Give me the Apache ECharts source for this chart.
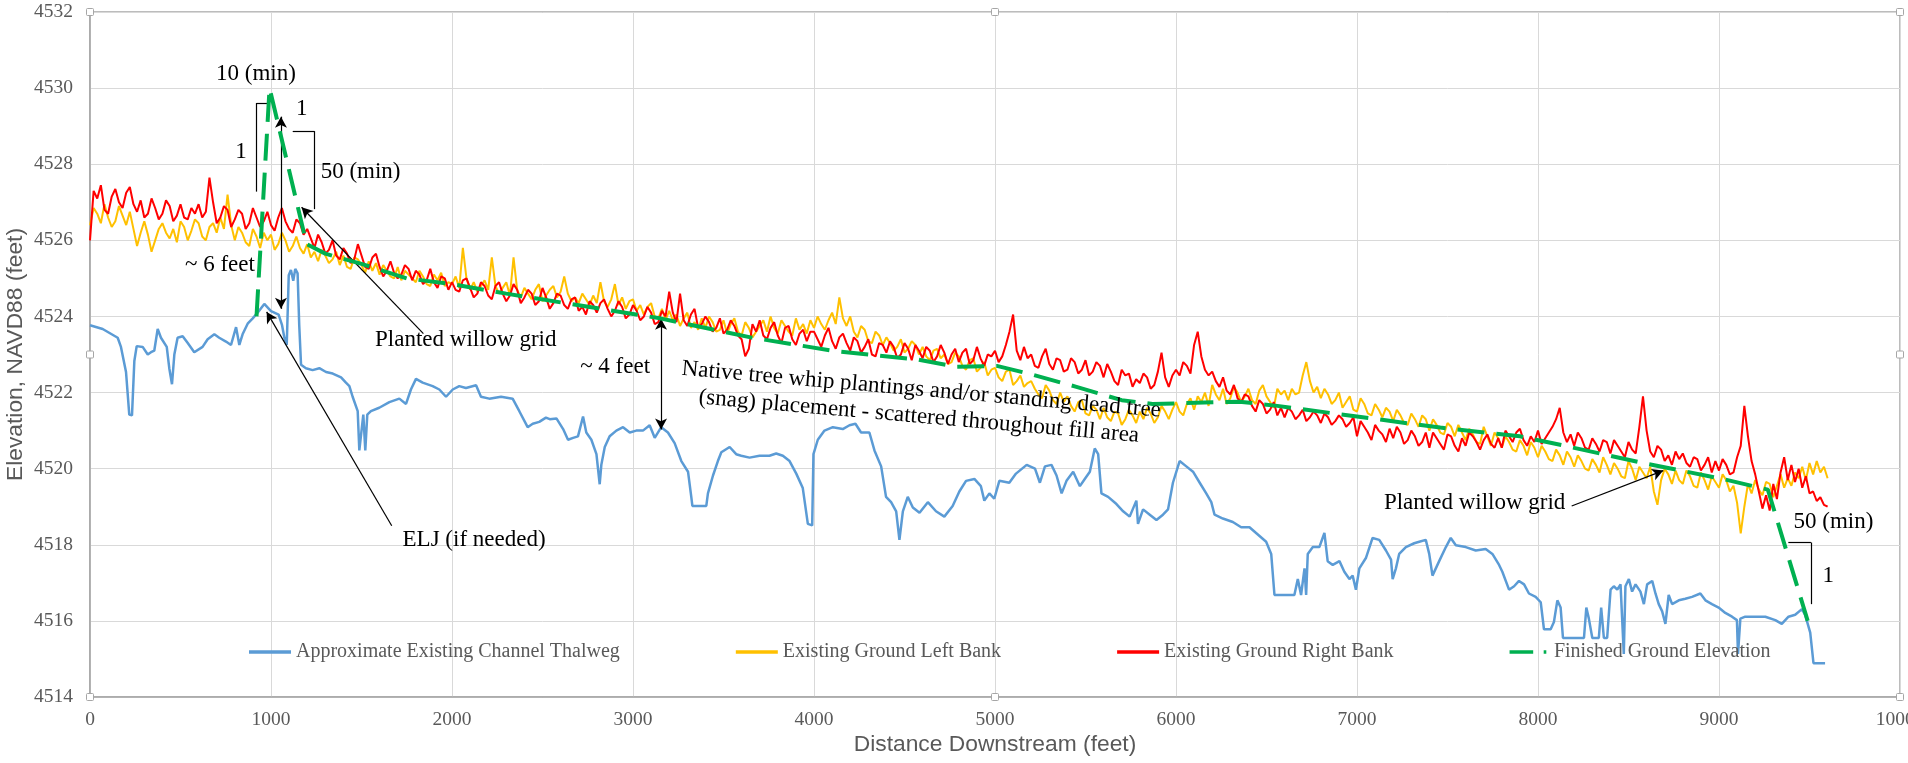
<!DOCTYPE html>
<html><head><meta charset="utf-8">
<script src="https://cdn.jsdelivr.net/npm/echarts@6.0.0/dist/echarts.min.js"></script>
<style>html,body{margin:0;padding:0;background:#fff}#c{width:1908px;height:763px}</style>
</head><body><div id="c"></div>
<script>
// ---------- DATA ----------
const seriesNames = ['Approximate Existing Channel Thalweg','Existing Ground Left Bank','Existing Ground Right Bank','Finished Ground Elevation'];
const xAxisTitle = 'Distance Downstream (feet)';
const yAxisTitle = 'Elevation, NAVD88 (feet)';
const xRange = [0, 10000, 1000];
const yRange = [4514, 4532, 2];

// [distance ft, elevation ft]
const thalweg = [[0,4523.77],[70,4523.67],[153,4523.44],[171,4523.2],[199,4522.54],[217,4521.42],[232,4521.4],[245,4522.83],[258,4523.22],[291,4523.2],[319,4523.0],[337,4523.06],[355,4523.1],[374,4523.67],[392,4523.44],[424,4523.2],[438,4522.64],[453,4522.22],[466,4523.0],[484,4523.44],[512,4523.48],[540,4523.3],[576,4523.06],[622,4523.2],[650,4523.4],[687,4523.53],[714,4523.44],[751,4523.34],[779,4523.25],[807,4523.72],[825,4523.25],[843,4523.53],[871,4523.81],[899,4523.95],[926,4524.1],[963,4524.33],[1000,4524.14],[1042,4524.05],[1061,4523.77],[1074,4523.44],[1087,4523.25],[1098,4525.08],[1110,4525.22],[1123,4524.94],[1134,4525.25],[1147,4525.13],[1156,4523.77],[1166,4522.73],[1193,4522.64],[1230,4522.59],[1267,4522.64],[1304,4522.54],[1341,4522.5],[1387,4522.4],[1414,4522.26],[1433,4522.17],[1451,4521.89],[1479,4521.51],[1488,4520.48],[1499,4520.48],[1510,4521.42],[1521,4520.48],[1532,4521.42],[1552,4521.51],[1598,4521.6],[1654,4521.75],[1709,4521.84],[1746,4521.7],[1773,4522.08],[1801,4522.36],[1838,4522.26],[1893,4522.17],[1930,4522.08],[1967,4521.89],[2004,4522.08],[2040,4522.17],[2077,4522.12],[2133,4522.19],[2160,4521.89],[2206,4521.84],[2271,4521.89],[2335,4521.84],[2372,4521.51],[2418,4521.09],[2446,4521.18],[2482,4521.23],[2519,4521.34],[2540,4521.3],[2577,4521.32],[2614,4521.04],[2641,4520.76],[2669,4520.81],[2696,4520.85],[2724,4521.37],[2742,4520.95],[2770,4520.76],[2798,4520.38],[2816,4519.59],[2825,4520.1],[2844,4520.57],[2871,4520.85],[2908,4521.0],[2945,4521.09],[2982,4520.95],[3018,4521.0],[3055,4521.0],[3092,4521.14],[3120,4520.81],[3156,4521.09],[3193,4520.95],[3230,4520.67],[3267,4520.2],[3304,4519.92],[3322,4519.26],[3328,4519.02],[3405,4519.02],[3414,4519.35],[3442,4519.82],[3469,4520.2],[3488,4520.43],[3534,4520.57],[3570,4520.38],[3598,4520.34],[3644,4520.29],[3699,4520.34],[3754,4520.34],[3791,4520.4],[3828,4520.34],[3865,4520.2],[3902,4519.87],[3938,4519.49],[3966,4518.55],[3990,4518.51],[3997,4520.38],[4021,4520.76],[4058,4521.0],[4104,4521.09],[4159,4521.04],[4196,4521.14],[4229,4521.18],[4260,4520.95],[4306,4520.95],[4334,4520.48],[4371,4520.06],[4398,4519.26],[4426,4519.12],[4454,4518.88],[4472,4518.13],[4491,4518.88],[4518,4519.26],[4546,4518.98],[4583,4518.84],[4629,4519.12],[4674,4518.88],[4720,4518.74],[4766,4519.02],[4803,4519.4],[4840,4519.68],[4886,4519.73],[4922,4519.54],[4941,4519.16],[4969,4519.35],[4996,4519.21],[5024,4519.68],[5079,4519.63],[5116,4519.87],[5175,4520.1],[5221,4520.0],[5248,4519.63],[5276,4520.06],[5312,4520.1],[5340,4519.82],[5368,4519.35],[5395,4519.68],[5432,4519.92],[5469,4519.54],[5496,4519.73],[5524,4519.92],[5551,4520.53],[5570,4520.38],[5588,4519.35],[5625,4519.26],[5671,4519.07],[5708,4518.88],[5744,4518.74],[5781,4519.16],[5790,4518.55],[5818,4518.93],[5855,4518.79],[5892,4518.65],[5928,4518.79],[5956,4518.93],[5983,4519.63],[6020,4520.2],[6057,4520.06],[6094,4519.92],[6131,4519.63],[6167,4519.35],[6195,4519.12],[6213,4518.79],[6259,4518.69],[6314,4518.6],[6360,4518.46],[6406,4518.46],[6452,4518.27],[6498,4518.08],[6526,4517.76],[6544,4516.68],[6654,4516.68],[6673,4517.1],[6691,4516.68],[6710,4517.38],[6719,4516.68],[6728,4517.76],[6756,4517.94],[6792,4517.94],[6820,4518.31],[6838,4517.57],[6866,4517.47],[6903,4517.57],[6930,4517.29],[6958,4517.1],[6976,4517.19],[6994,4516.82],[7013,4517.38],[7050,4517.66],[7086,4518.18],[7123,4518.13],[7160,4517.85],[7188,4517.61],[7197,4517.1],[7215,4517.38],[7233,4517.76],[7270,4517.94],[7316,4518.04],[7344,4518.08],[7380,4518.13],[7399,4517.76],[7417,4517.19],[7454,4517.57],[7491,4517.94],[7518,4518.18],[7546,4517.99],[7601,4517.94],[7656,4517.85],[7711,4517.89],[7748,4517.76],[7785,4517.47],[7803,4517.29],[7840,4516.82],[7868,4516.91],[7895,4517.05],[7923,4516.96],[7950,4516.72],[7987,4516.63],[8015,4516.49],[8033,4515.78],[8070,4515.78],[8088,4515.97],[8107,4516.54],[8125,4516.35],[8138,4515.55],[8254,4515.55],[8267,4516.35],[8281,4516.06],[8300,4515.55],[8336,4515.55],[8349,4516.35],[8364,4515.55],[8382,4515.55],[8401,4516.82],[8419,4516.91],[8438,4516.82],[8456,4516.96],[8474,4515.13],[8483,4516.91],[8502,4517.1],[8520,4516.77],[8539,4516.96],[8566,4516.77],[8585,4516.44],[8603,4516.96],[8631,4517.05],[8649,4516.72],[8667,4516.44],[8686,4516.25],[8704,4515.92],[8722,4516.68],[8741,4516.44],[8778,4516.54],[8814,4516.58],[8851,4516.63],[8897,4516.72],[8925,4516.54],[8961,4516.44],[8998,4516.35],[9035,4516.21],[9072,4516.11],[9099,4516.02],[9105,4515.13],[9118,4516.06],[9145,4516.11],[9200,4516.11],[9256,4516.11],[9311,4516.02],[9347,4515.92],[9384,4516.11],[9421,4516.16],[9458,4516.31],[9476,4516.16],[9504,4515.69],[9522,4514.89],[9586,4514.89]];

// bank surveys, one reading every bankStep feet starting at 0 ft
const bankStep = 20;
const leftBank = [
4526.4,4526.85,4526.7,4526.45,4526.95,4526.6,4526.35,4526.5,4526.9,4526.65,
4526.4,4526.75,4526.3,4525.85,4526.2,4526.5,4526.15,4525.7,4526.0,4526.3,
4526.45,4526.2,4526.05,4526.3,4525.95,4526.5,4526.35,4526.0,4526.25,4526.55,
4526.45,4526.1,4526.0,4526.35,4526.45,4526.2,4526.6,4526.3,4527.2,4526.4,
4526.0,4526.35,4526.2,4525.95,4525.85,4526.3,4526.1,4525.8,4526.2,4526.0,
4526.15,4525.75,4525.9,4526.2,4526.0,4525.7,4525.85,4526.1,4525.8,4525.65,
4525.9,4525.55,4525.7,4525.45,4525.75,4525.6,4525.4,4525.5,4525.7,4525.35,
4525.6,4525.3,4525.25,4525.55,4525.5,4525.35,4525.15,4525.45,4525.2,4525.4,
4525.1,4525.35,4525.2,4525.05,4525.0,4525.3,4524.95,4525.2,4525.1,4525.0,
4524.9,4525.2,4525.05,4524.85,4524.8,4525.1,4524.95,4525.15,4524.8,4524.9,
4524.85,4525.05,4524.75,4525.8,4525.0,4524.7,4524.9,4524.65,4524.8,4524.95,
4524.7,4525.55,4524.8,4524.6,4524.75,4524.9,4524.55,4525.55,4524.7,4524.5,
4524.75,4524.6,4524.45,4524.7,4524.85,4524.4,4524.55,4524.7,4524.8,4524.5,
4524.65,4525.05,4524.6,4524.4,4524.5,4524.35,4524.6,4524.45,4524.3,4524.55,
4524.35,4524.9,4524.4,4524.25,4524.45,4524.85,4524.3,4524.5,4524.2,4524.4,
4524.45,4524.15,4524.3,4524.05,4524.25,4524.35,4524.0,4523.95,4524.2,4523.9,
4524.15,4523.9,4524.05,4523.75,4523.95,4524.1,4523.7,4523.85,4523.65,4523.95,
4523.7,4524.0,4523.85,4523.6,4523.65,4523.9,4523.55,4523.8,4523.95,4523.6,
4523.5,4523.85,4523.7,4523.45,4523.6,4523.75,4523.9,4523.6,4524.0,4523.7,
4523.55,4523.9,4523.75,4523.6,4523.5,4523.95,4523.65,4523.8,4523.55,4523.9,
4523.7,4524.0,4523.8,4523.65,4523.9,4524.1,4523.8,4524.5,4523.95,4523.75,
4524.0,4523.6,4523.45,4523.75,4523.65,4523.35,4523.3,4523.6,4523.5,4523.25,
4523.45,4523.3,4523.1,4523.2,4523.4,4523.05,4523.15,4523.35,4523.25,4523.0,
4523.2,4522.95,4522.85,4523.1,4523.15,4522.9,4523.0,4522.75,4522.8,4523.05,
4522.95,4522.7,4522.6,4522.85,4522.9,4522.55,4522.65,4522.8,4522.45,4522.6,
4522.65,4522.4,4522.3,4522.55,4522.6,4522.2,4522.3,4522.45,4522.15,4522.25,
4522.3,4522.1,4521.95,4521.85,4522.2,4522.05,4521.8,4521.7,4522.0,4521.75,
4521.9,4521.65,4521.5,4521.75,4521.8,4521.45,4521.4,4521.65,4521.55,4521.3,
4521.6,4521.35,4521.25,4521.5,4521.45,4521.15,4521.3,4521.55,4521.4,4521.2,
4521.5,4521.3,4521.6,4521.45,4521.2,4521.35,4521.65,4521.5,4521.3,4521.55,
4521.75,4521.5,4521.4,4521.7,4521.85,4521.55,4521.9,4521.75,4522.0,4521.65,
4522.2,4521.95,4521.8,4522.1,4521.7,4521.85,4522.15,4522.0,4521.75,4521.9,
4522.1,4521.8,4521.7,4522.05,4522.2,4521.9,4521.75,4521.6,4522.1,4521.95,
4522.05,4521.8,4522.1,4521.95,4522.0,4522.45,4522.8,4522.3,4522.0,4522.15,
4521.85,4522.1,4521.95,4521.7,4521.8,4522.0,4521.6,4521.75,4521.9,4521.55,
4521.5,4521.85,4521.7,4521.45,4521.4,4521.7,4521.55,4521.35,4521.6,4521.5,
4521.25,4521.55,4521.4,4521.2,4521.15,4521.45,4521.3,4521.1,4521.4,4521.3,
4521.0,4521.3,4521.15,4520.95,4520.9,4521.2,4521.1,4520.85,4521.15,4520.95,
4520.75,4521.05,4520.9,4520.7,4520.65,4521.1,4520.85,4520.6,4520.95,4520.8,
4520.55,4520.85,4520.7,4520.5,4520.45,4520.75,4520.6,4520.35,4520.7,4520.55,
4520.3,4520.6,4520.45,4520.25,4520.2,4520.5,4520.35,4520.1,4520.45,4520.3,
4520.05,4520.35,4520.2,4520.0,4519.95,4520.25,4520.1,4519.9,4520.3,4520.1,
4519.85,4520.15,4520.0,4519.8,4519.75,4520.2,4520.0,4519.7,4520.05,4519.9,
4519.75,4520.05,4519.4,4519.05,4519.7,4520.0,4519.85,4519.6,4519.95,4519.7,
4519.6,4519.95,4519.8,4519.55,4519.5,4519.9,4519.7,4519.45,4519.8,4519.65,
4519.5,4519.85,4519.7,4519.4,4519.55,4519.1,4518.3,4519.0,4519.6,4519.35,
4519.7,4519.45,4519.3,4519.65,4519.6,4519.25,4519.55,4519.85,4519.5,4519.75,
4519.55,4519.9,4519.75,4520.05,4519.7,4520.15,4519.85,4520.2,4519.9,4520.05,
4519.75];
const rightBank = [
4526.0,4527.3,4527.1,4527.45,4526.8,4526.7,4527.15,4527.35,4527.0,4526.85,
4527.25,4527.4,4526.95,4526.75,4527.05,4526.6,4526.7,4527.1,4526.85,4526.55,
4526.7,4527.05,4526.9,4526.5,4526.65,4526.95,4526.6,4526.55,4526.85,4526.7,
4526.95,4526.6,4526.75,4527.65,4527.0,4526.45,4526.6,4526.9,4526.8,4526.35,
4526.55,4526.8,4526.7,4526.3,4526.45,4526.85,4526.6,4526.35,4526.5,4526.75,
4526.4,4526.25,4526.6,4526.85,4526.5,4526.3,4526.2,4526.55,4526.45,4526.15,
4526.3,4526.05,4525.8,4526.15,4525.95,4525.65,4525.75,4526.0,4525.6,4525.5,
4525.8,4525.65,4525.4,4525.5,4525.9,4525.6,4525.3,4525.25,4525.55,4525.65,
4525.3,4525.05,4525.2,4525.45,4525.15,4525.0,4525.1,4525.35,4525.25,4524.95,
4525.2,4525.1,4524.85,4524.95,4525.25,4524.9,4524.75,4525.05,4525.0,4524.7,
4524.9,4524.7,4524.65,4524.95,4525.0,4524.75,4524.5,4524.6,4524.9,4524.8,
4524.55,4524.45,4524.8,4524.9,4524.6,4524.4,4524.55,4524.85,4524.7,4524.35,
4524.5,4524.7,4524.6,4524.3,4524.4,4524.75,4524.5,4524.2,4524.35,4524.6,
4524.55,4524.3,4524.2,4524.45,4524.5,4524.15,4524.25,4524.05,4524.4,4524.3,
4524.1,4524.35,4524.45,4524.2,4524.0,4524.15,4524.4,4524.25,4523.95,4524.05,
4524.3,4524.15,4523.9,4524.0,4524.25,4524.1,4523.8,4523.85,4524.15,4524.0,
4524.65,4524.1,4523.85,4524.6,4523.9,4523.75,4524.05,4524.2,4523.7,4523.8,
4524.0,4523.85,4523.6,4523.7,4523.95,4523.55,4523.65,4523.9,4523.75,4523.5,
4523.4,4522.95,4523.15,4523.8,4523.6,4523.9,4523.5,4523.4,4523.7,4523.85,
4523.5,4523.3,4523.7,4523.75,4523.4,4523.25,4523.55,4523.65,4523.35,4523.6,
4523.6,4523.4,4523.2,4523.5,4523.7,4523.35,4523.15,4523.45,4523.55,4523.3,
4523.1,4523.45,4523.35,4523.05,4523.2,4523.4,4523.0,4522.95,4523.3,4523.25,
4523.05,4523.35,4523.2,4522.9,4523.0,4523.3,4523.15,4522.85,4523.25,4523.1,
4522.9,4523.2,4523.1,4522.8,4522.95,4523.25,4523.05,4522.75,4523.0,4523.15,
4522.8,4523.05,4523.15,4522.75,4522.85,4523.2,4522.9,4522.7,4523.0,4522.95,
4523.1,4522.8,4522.95,4523.25,4523.6,4524.05,4523.1,4522.85,4523.2,4522.9,
4523.0,4522.7,4522.65,4522.95,4523.15,4522.75,4522.6,4522.9,4522.85,4522.55,
4522.6,4522.9,4522.8,4522.5,4522.6,4522.85,4522.45,4522.55,4522.8,4522.7,
4522.4,4522.75,4522.55,4522.3,4522.2,4522.6,4522.45,4522.5,4522.15,4522.35,
4522.25,4522.5,4522.4,4522.1,4522.2,4522.55,4523.05,4522.4,4522.15,4522.45,
4522.6,4522.45,4522.8,4522.7,4522.5,4523.25,4523.6,4522.95,4522.6,4522.45,
4522.55,4522.3,4522.15,4522.4,4522.05,4521.95,4522.2,4521.85,4521.75,4521.95,
4521.9,4521.65,4521.5,4521.8,4521.7,4521.45,4521.55,4521.75,4521.4,4521.6,
4521.35,4521.6,4521.5,4521.3,4521.4,4521.55,4521.25,4521.35,4521.5,4521.4,
4521.2,4521.45,4521.35,4521.15,4521.25,4521.4,4521.3,4521.1,4521.2,4521.35,
4520.85,4521.25,4521.1,4520.95,4520.75,4521.15,4521.0,4520.9,4520.7,4521.05,
4520.8,4521.1,4520.95,4520.65,4520.75,4521.0,4520.85,4520.6,4520.7,4520.95,
4520.55,4520.95,4520.8,4520.65,4520.5,4520.9,4520.85,4520.6,4520.45,4520.8,
4520.6,4520.95,4520.85,4520.7,4520.5,4520.75,4520.9,4520.65,4520.55,4520.8,
4520.55,4521.0,4520.85,4520.7,4520.95,4521.05,4520.75,4520.6,4520.85,4520.7,
4521.0,4520.65,4520.8,4520.95,4521.1,4521.3,4521.6,4520.95,4520.7,4520.9,
4520.6,4520.95,4520.8,4520.55,4520.5,4520.8,4520.65,4520.45,4520.75,4520.7,
4520.4,4520.75,4520.6,4520.45,4520.3,4520.7,4520.5,4520.4,4521.1,4521.9,
4521.0,4520.45,4520.3,4520.6,4520.5,4520.2,4520.35,4520.1,4520.45,4520.25,
4520.4,4520.15,4520.05,4520.3,4520.25,4519.95,4520.1,4520.3,4519.9,4520.2,
4519.95,4520.25,4520.1,4519.85,4519.9,4520.3,4520.6,4521.65,4520.85,4520.2,
4519.85,4519.4,4518.95,4519.3,4518.9,4519.6,4519.2,4519.9,4520.3,4519.7,
4520.1,4519.65,4520.0,4519.5,4519.8,4519.35,4519.4,4519.15,4519.25,4519.05,
4519.0];

const finishedGround = [[920,4524.0],[992,4530.0],[1197,4525.9],[1300,4525.65],[1500,4525.38],[1750,4525.0],[2000,4524.85],[2300,4524.6],[2600,4524.37],[3150,4523.95],[3650,4523.45],[4100,4523.1],[4570,4522.87],[4780,4522.68],[5010,4522.7],[5200,4522.48],[5450,4522.15],[5700,4521.8],[5870,4521.7],[6350,4521.76],[6560,4521.65],[7000,4521.37],[7460,4521.08],[7900,4520.85],[8130,4520.62],[8580,4520.15],[9020,4519.73],[9270,4519.45],[9490,4516.0]];

// annotation texts: data position of text centre
const annotationTexts = [
  {at:[917,4530.37], text:'10 (min)'},
  {at:[834,4528.33], text:'1'},
  {at:[1170,4529.44], text:'1'},
  {at:[1495,4527.80], text:'50 (min)'},
  {at:[718,4525.35], text:'~ 6 feet'},
  {at:[2076,4523.38], text:'Planted willow grid'},
  {at:[2122,4518.13], text:'ELJ (if needed)'},
  {at:[2901,4522.67], text:'~ 4 feet'},
  {at:[4586,4521.72], text:'Native tree whip plantings and/or standing dead tree\n(snag) placement - scattered throughout fill area', rotate:-5},
  {at:[7650,4519.11], text:'Planted willow grid'},
  {at:[9632,4518.6], text:'50 (min)'},
  {at:[9604,4517.17], text:'1'}
];
// annotation leader lines / brackets / arrows (data coordinates)
const annotationLines = [
  {from:[921,4529.61], to:[983,4529.61], arrows:'none'},
  {from:[921,4529.61], to:[921,4527.28], arrows:'none'},
  {from:[1120,4528.87], to:[1240,4528.87], arrows:'none'},
  {from:[1240,4528.87], to:[1240,4526.82], arrows:'none'},
  {from:[1055,4529.25], to:[1055,4524.2], arrows:'both'},
  {from:[1842,4523.55], to:[1169,4526.87], arrows:'end'},
  {from:[1667,4518.5], to:[976,4524.12], arrows:'end'},
  {from:[3155,4523.94], to:[3155,4521.03], arrows:'both'},
  {from:[8186,4519.02], to:[8692,4519.95], arrows:'end'},
  {from:[9383,4518.06], to:[9508,4518.06], arrows:'none'},
  {from:[9508,4518.06], to:[9508,4516.44], arrows:'none'}
];

// ---------- CHART ----------
const SERIF = "'Liberation Serif','Times New Roman',serif";
const SANS = "'Liberation Sans',Arial,sans-serif";
const GRAY = '#595959';
const colors = ['#5B9BD5','#FFC000','#FF0000','#00B050'];

const chart = echarts.init(document.getElementById('c'), null, {renderer:'canvas'});

const bankPairs = arr => arr.map((v,i)=>[i*bankStep, v]);

const markLineData = annotationLines.map(l => [
  {coord:l.from, symbol: l.arrows==='both' ? 'arrow' : 'none'},
  {coord:l.to, symbol: l.arrows==='none' ? 'none' : 'arrow'}
]);

const axisLabel = {fontFamily:SERIF, fontSize:19.5, color:GRAY, formatter: v => String(v)};
const option = {
  animation:false,
  backgroundColor:'#ffffff',
  color:colors,
  grid:{left:90, right:8, top:12, bottom:66, outerBoundsMode:'none', containLabel:false,
        show:true, borderColor:'#a6a6a6', borderWidth:1.5},
  legend:{
    data:[
      {name:seriesNames[0], icon:'rect'},
      {name:seriesNames[1], icon:'rect'},
      {name:seriesNames[2], icon:'rect'},
      {name:seriesNames[3], icon:'path://M0,0H27V4H0Z M39,0H42V4H39Z'}
    ],
    left:244, top:637, itemWidth:42, itemHeight:3.5, itemGap:116,
    selectedMode:false,
    itemStyle:{borderWidth:0},
    textStyle:{fontFamily:SERIF, fontSize:20, color:GRAY}
  },
  xAxis:{
    type:'value', min:xRange[0], max:xRange[1], interval:xRange[2],
    axisLine:{show:true, lineStyle:{color:'#a6a6a6', width:1.5}},
    axisTick:{show:false},
    axisLabel:Object.assign({margin:13}, axisLabel),
    splitLine:{show:true, lineStyle:{color:'#d9d9d9', width:1}}
  },
  yAxis:{
    type:'value', min:yRange[0], max:yRange[1], interval:yRange[2],
    axisLine:{show:true, lineStyle:{color:'#a6a6a6', width:1.5}},
    axisTick:{show:false},
    axisLabel:Object.assign({margin:17}, axisLabel),
    splitLine:{show:true, lineStyle:{color:'#d9d9d9', width:1}}
  },
  series:[
    {name:seriesNames[0], type:'line', data:thalweg, symbol:'none', lineStyle:{color:colors[0], width:2.5}, itemStyle:{color:colors[0]}, z:2},
    {name:seriesNames[1], type:'line', data:bankPairs(leftBank), symbol:'none', lineStyle:{color:colors[1], width:2}, itemStyle:{color:colors[1]}, z:3},
    {name:seriesNames[2], type:'line', data:bankPairs(rightBank), symbol:'none', lineStyle:{color:colors[2], width:2}, itemStyle:{color:colors[2]}, z:4},
    {name:seriesNames[3], type:'line', data:finishedGround, symbol:'none', lineStyle:{color:colors[3], width:4, type:[27,12]}, itemStyle:{color:colors[3]}, z:5},
    {name:'annotations', type:'line', data:[], symbol:'none', z:6, silent:true,
      markLine:{silent:true, animation:false, symbolSize:[9,11], label:{show:false},
        lineStyle:{color:'#000', width:1.2, type:'solid'}, emphasis:{disabled:true},
        data:markLineData}}
  ]
};
chart.setOption(option);

// text annotations & titles placed through the chart's scales
const px = p => chart.convertToPixel({gridIndex:0}, p);
const graphics = annotationTexts.map(a => {
  const p = px(a.at);
  return {type:'text', x:p[0], y:p[1], rotation:(a.rotate||0)*Math.PI/180, z:100, silent:true,
    style:{text:a.text, fontFamily:SERIF, fontSize:23, fill:'#000', align:'center', verticalAlign:'middle', lineHeight:27}};
});
const tl = px([xRange[0], yRange[1]]), br = px([xRange[1], yRange[0]]);
const midX = (tl[0]+br[0])/2, midY = (tl[1]+br[1])/2;
graphics.push({type:'text', x:16, y:midY, rotation:Math.PI/2, silent:true,
  style:{text:yAxisTitle, fontFamily:SANS, fontSize:22.8, fill:GRAY, align:'center', verticalAlign:'middle'}});
graphics.push({type:'text', x:midX, y:745, silent:true,
  style:{text:xAxisTitle, fontFamily:SANS, fontSize:22.8, fill:GRAY, align:'center', verticalAlign:'middle'}});
// plot-area selection handles
[[tl[0],tl[1]],[midX,tl[1]],[br[0],tl[1]],[tl[0],midY],[br[0],midY],[tl[0],br[1]],[midX,br[1]],[br[0],br[1]]].forEach(h => {
  graphics.push({type:'rect', x:h[0]-3.5, y:h[1]-3.5, z:110, silent:true, shape:{width:7, height:7, r:1},
    style:{fill:'#fff', stroke:'#a6a6a6', lineWidth:1}});
});
chart.setOption({graphic:graphics});
</script>
</body></html>
